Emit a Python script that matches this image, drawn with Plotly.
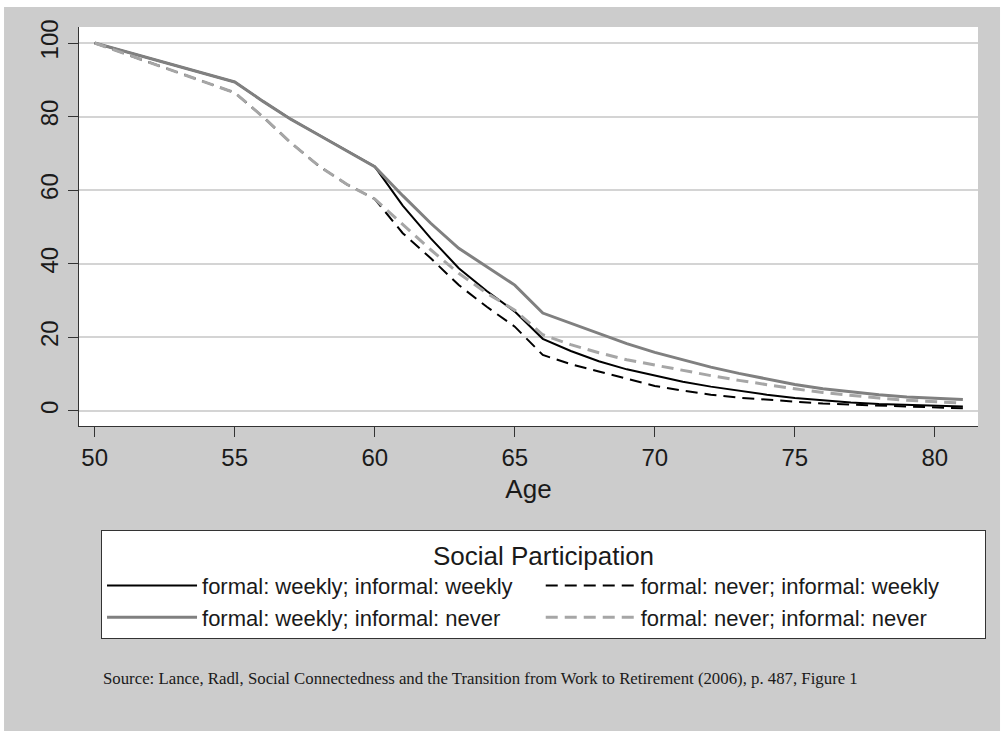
import plotly.graph_objects as go

# ---- data ----
ages = list(range(50, 82))

weekly_weekly = [100, 97.9, 95.8, 93.7, 91.6, 89.4, 84.2, 79.3, 75.0, 70.6, 66.4,
                 55.8, 46.9, 38.8, 32.6, 27.0, 19.6, 16.3, 13.5, 11.3, 9.5,
                 7.9, 6.6, 5.4, 4.4, 3.5, 2.8, 2.3, 1.9, 1.6, 1.4, 1.2]
never_weekly = [100, 97.3, 94.6, 91.9, 89.2, 86.5, 80.0, 72.9, 66.6, 61.6, 57.6,
                48.3, 41.5, 34.2, 28.3, 22.9, 15.2, 12.7, 10.7, 8.7, 6.8,
                5.5, 4.4, 3.6, 3.0, 2.5, 2.0, 1.7, 1.4, 1.1, 0.9, 0.7]
weekly_never = [100, 97.9, 95.8, 93.7, 91.6, 89.4, 84.2, 79.3, 75.0, 70.6, 66.4,
                58.5, 51.0, 44.2, 39.2, 34.2, 26.6, 23.8, 21.0, 18.3, 15.9,
                13.8, 11.9, 10.2, 8.6, 7.2, 6.0, 5.1, 4.4, 3.8, 3.4, 3.1]
never_never = [100, 97.3, 94.6, 91.9, 89.2, 86.5, 80.0, 72.9, 66.6, 61.6, 57.6,
               50.8, 43.8, 37.4, 32.0, 27.4, 20.7, 18.0, 15.8, 13.9, 12.4,
               11.0, 9.6, 8.3, 7.1, 6.0, 5.0, 4.2, 3.5, 2.9, 2.4, 2.1]

series_names = ["formal: weekly; informal: weekly",
                "formal: never; informal: weekly",
                "formal: weekly; informal: never",
                "formal: never; informal: never"]
series_values = [weekly_weekly, never_weekly, weekly_never, never_never]
series_colors = ["#000000", "#000000", "#808080", "#a6a6a6"]
series_widths = [2, 2, 3, 3]
series_dash = ["solid", "12px,7px", "solid", "12px,7px"]

x_ticks = [50, 55, 60, 65, 70, 75, 80]
y_ticks = [0, 20, 40, 60, 80, 100]

FONT = "Liberation Sans, Arial, sans-serif"
TXT = "#1a1a1a"
AX = "#333333"

fig = go.Figure()
for name, vals, col, w, d in zip(series_names, series_values, series_colors,
                                 series_widths, series_dash):
    fig.add_trace(go.Scatter(x=ages, y=vals, mode="lines", name=name,
                             line=dict(color=col, width=w, dash=d)))

fig.update_layout(
    width=1003, height=736,
    margin=dict(l=79, r=25, t=27, b=310, pad=0),
    paper_bgcolor="white",
    plot_bgcolor="white",
    font=dict(family=FONT, color=TXT),
    shapes=[
        dict(type="rect", xref="paper", yref="paper", layer="below",
             x0=-0.0834, x1=1.0245, y0=-0.7644, y1=1.0501,
             fillcolor="#cccccc", line=dict(width=0)),
        dict(type="rect", xref="paper", yref="paper", layer="below",
             x0=0, x1=1, y0=0, y1=1,
             fillcolor="white", line=dict(width=0)),
    ],
    xaxis=dict(range=[49.44, 81.54], tickvals=x_ticks, ticks="outside",
               ticklen=10, tickcolor=AX, tickwidth=1,
               showline=True, linecolor=AX, linewidth=1, showgrid=False,
               zeroline=False, tickfont=dict(size=24, color=TXT),
               title=dict(text="Age", font=dict(size=26, color=TXT), standoff=10)),
    yaxis=dict(range=[-4.1, 104.35], tickvals=y_ticks, ticks="outside",
               ticklen=10, tickcolor=AX, tickwidth=1,
               showline=True, linecolor=AX, linewidth=1,
               showgrid=True, gridcolor="#d4d4d4", gridwidth=2,
               zeroline=False, tickangle=-90,
               tickfont=dict(size=24, color=TXT)),
    legend=dict(orientation="h", x=0.0245, y=-0.2607, xanchor="left",
                yanchor="top", bgcolor="white", bordercolor=AX, borderwidth=1,
                entrywidth=0.488, entrywidthmode="fraction",
                itemwidth=90,
                font=dict(size=22, color=TXT),
                title=dict(text="Social Participation", side="top center",
                           font=dict(size=26, color=TXT))),
    annotations=[
        dict(text="Source: Lance, Radl, Social Connectedness and the Transition from Work to Retirement (2006), p. 487, Figure 1",
             xref="paper", yref="paper", x=0.0245, y=-0.634, xanchor="left",
             yanchor="middle", showarrow=False,
             font=dict(family="Liberation Serif, Times New Roman, serif",
                       size=16.8, color=TXT))
    ],
)

fig.write_html("out.html")
